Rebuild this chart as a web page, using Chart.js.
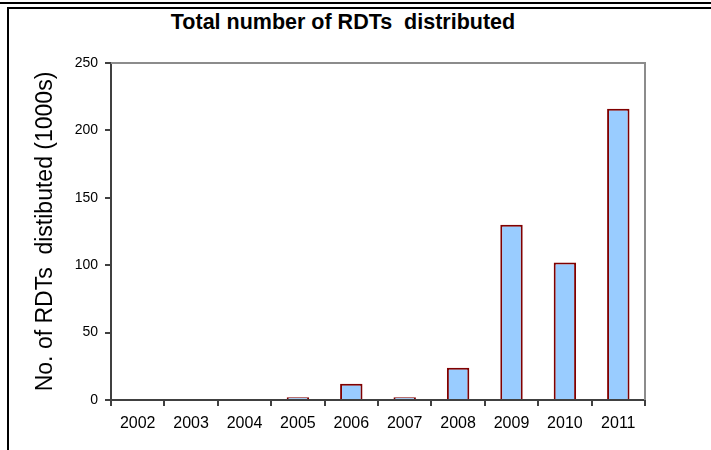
<!DOCTYPE html>
<html>
<head>
<meta charset="utf-8">
<script src="https://cdn.jsdelivr.net/npm/chart.js@4"></script>
<style>
  body { margin: 0; background: #fff; }
  #wrap { position: relative; width: 711px; height: 450px; overflow: hidden; }
  #lineTop { position: absolute; left: 0; top: 2px; width: 711px; height: 0; border-top: 2px solid #000; }
  #frame { position: absolute; left: 7px; top: 7px; width: 720px; height: 460px; border-top: 2px solid #000; border-left: 2px solid #000; }
  #title { position: absolute; left: 0; top: 10px; width: 686px; text-align: center;
           font: bold 21.5px "Liberation Sans", Arial, sans-serif; color: #000; }
  canvas { position: absolute; left: 0; top: 0; }
</style>
</head>
<body>
<div id="wrap">
  <div id="lineTop"></div>
  <div id="frame"></div>
  <div id="title">Total number of RDTs&nbsp; distributed</div>
  <canvas id="rdtChart" width="711" height="450"></canvas>
</div>
<script>
const years = ["2002", "2003", "2004", "2005", "2006", "2007", "2008", "2009", "2010", "2011"];
const rdtThousands = [0, 0, 0, 2, 12, 2, 24, 130, 102, 216];
const yTicks = [0, 50, 100, 150, 200, 250];

// grey frame on the top and right of the plot area
const plotFrame = {
    id: "plotFrame",
    afterDraw(chart) {
        const { ctx, chartArea: a } = chart;
        ctx.save();
        ctx.strokeStyle = "#8c8c8c";
        ctx.lineWidth = 2;
        ctx.beginPath();
        ctx.moveTo(a.left, a.top);
        ctx.lineTo(a.right, a.top);
        ctx.lineTo(a.right, a.bottom);
        ctx.stroke();
        ctx.restore();
    }
};

new Chart(document.getElementById("rdtChart").getContext("2d"), {
    type: "bar",
    data: {
        labels: years,
        datasets: [{
            label: "RDTs distributed",
            data: rdtThousands,
            backgroundColor: "#99ccff",
            borderColor: "#800000",
            borderWidth: 2,
            borderSkipped: "bottom",
            categoryPercentage: 1,
            barPercentage: 0.42
        }]
    },
    options: {
        responsive: false,
        animation: false,
        layout: { padding: { top: 63, right: 66, bottom: 0, left: 0 } },
        plugins: {
            legend: { display: false },
            tooltip: { enabled: false }
        },
        scales: {
            x: {
                afterFit(axis) { axis.height = 50; },
                grid: { display: true, drawOnChartArea: false, drawTicks: true, tickLength: 6, color: "#404040", lineWidth: 2 },
                border: { color: "#404040", width: 2 },
                ticks: { color: "#000", padding: 8, font: { family: "'Liberation Sans', Arial", size: 16 }, maxRotation: 0 }
            },
            y: {
                min: 0,
                max: 250,
                afterFit(axis) { axis.width = 111; },
                afterBuildTicks(axis) { axis.ticks = yTicks.map(v => ({ value: v })); },
                grid: { display: true, drawOnChartArea: false, drawTicks: true, tickLength: 6, color: "#404040", lineWidth: 2 },
                border: { color: "#404040", width: 2 },
                ticks: { color: "#000", padding: 7, font: { family: "'Liberation Sans', Arial", size: 14 } },
                title: {
                    display: true,
                    text: "No. of RDTs  distibuted (1000s)",
                    color: "#000",
                    padding: { top: 32, bottom: 0 },
                    font: { family: "'Liberation Sans', Arial", size: 23, weight: "normal" }
                }
            }
        }
    },
    plugins: [plotFrame]
});
</script>
</body>
</html>
